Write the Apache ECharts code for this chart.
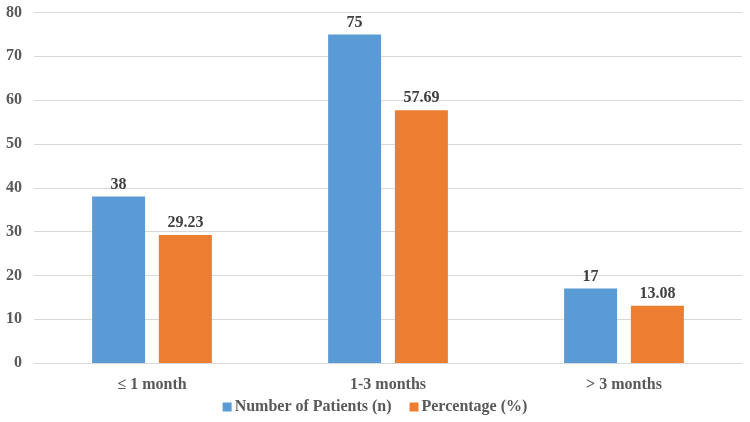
<!DOCTYPE html>
<html><head><meta charset="utf-8">
<script src="https://cdn.jsdelivr.net/npm/echarts@6/dist/echarts.min.js"></script>
<style>html,body{margin:0;padding:0;background:#fff}#c{width:750px;height:422px}</style>
</head><body><div id="c"></div>
<script>
var categories = ['\u2264 1 month', '1-3 months', '> 3 months'];
var patients = [38, 75, 17];
var percentage = [29.23, 57.69, 13.08];
var seriesNames = ['Number of Patients (n)', 'Percentage (%)'];
var yTicks = {min: 0, max: 80, interval: 10};

var font = '"Liberation Serif", "Times New Roman", serif';
var chart = echarts.init(document.getElementById('c'), null, {renderer: 'canvas'});
chart.setOption({
  animation: false,
  textStyle: {fontFamily: font},
  grid: {left: 34, right: 8, top: 12.5, bottom: 59, containLabel: false},
  legend: {
    bottom: 2, left: 'center', itemWidth: 9, itemHeight: 9, itemGap: 18,
    icon: 'rect',
    textStyle: {fontFamily: font, fontSize: 16, fontWeight: 'bold', color: '#595959', padding: [0, 0, 0, -2]},
    data: seriesNames
  },
  xAxis: {
    type: 'category', data: categories,
    axisLine: {show: true, lineStyle: {color: '#d9d9d9'}},
    axisTick: {show: false},
    axisLabel: {fontFamily: font, fontSize: 16, fontWeight: 'bold', color: '#595959', margin: 14}
  },
  yAxis: {
    type: 'value', min: yTicks.min, max: yTicks.max, interval: yTicks.interval,
    axisLine: {show: false}, axisTick: {show: false},
    splitLine: {lineStyle: {color: '#d9d9d9'}},
    axisLabel: {fontFamily: font, fontSize: 16, fontWeight: 'bold', color: '#595959', margin: 12}
  },
  series: [
    {name: seriesNames[0], type: 'bar', data: patients, barWidth: 53, barGap: '26%',
     itemStyle: {color: '#5b9bd5'},
     label: {show: true, position: 'top', distance: 4, fontFamily: font, fontSize: 16, fontWeight: 'bold', color: '#404040'}},
    {name: seriesNames[1], type: 'bar', data: percentage, barWidth: 53,
     itemStyle: {color: '#ed7d31'},
     label: {show: true, position: 'top', distance: 4, fontFamily: font, fontSize: 16, fontWeight: 'bold', color: '#404040',
       formatter: function(p){ return p.value.toFixed(2); }}}
  ]
});
</script></body></html>
